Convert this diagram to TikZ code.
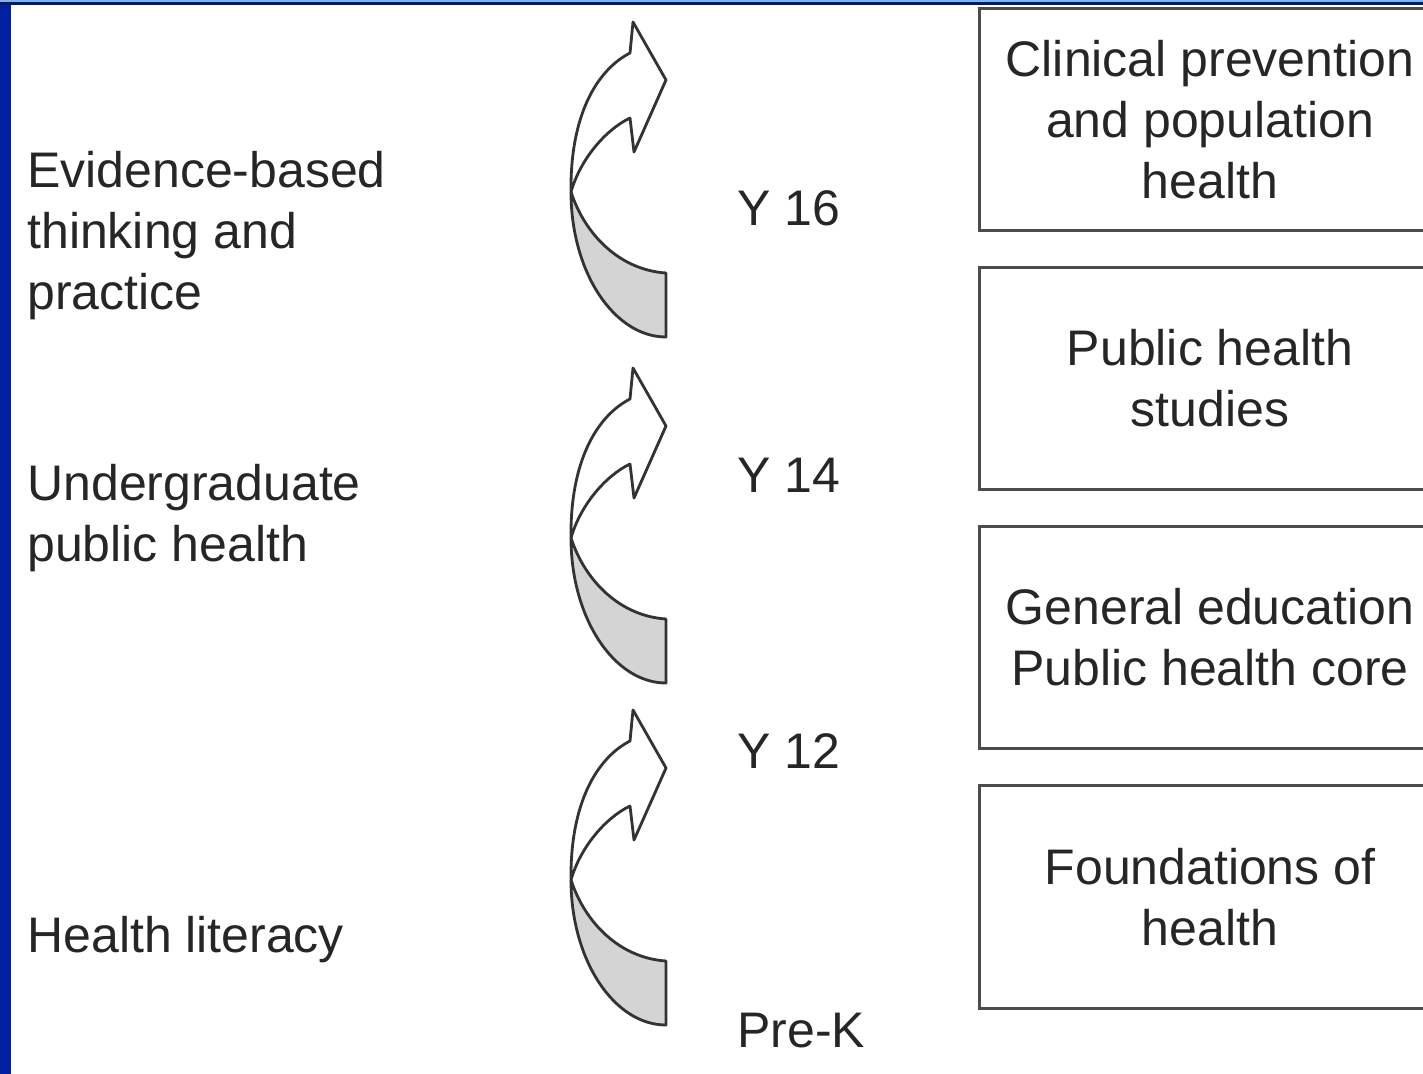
\documentclass[tikz,border=0pt]{standalone}
\usepackage{fontspec}
\setmainfont{Liberation Sans}
\usepackage{xcolor}
\definecolor{barblue}{HTML}{0022A0}
\definecolor{topnavy}{HTML}{001A66}
\definecolor{topsky}{HTML}{80B4EC}
\tikzstyle{box} = [draw=black!70, line width=1.7pt, minimum width=9.24cm, minimum height=4.46cm, inner sep=0pt, align=center, text=black!85]
\tikzstyle{sidetext} = [inner sep=0pt, align=left, text=black!85]
\tikzstyle{yeartext} = [inner sep=0pt, text=black!85]
\tikzstyle{bandline} = [draw=black!80, line width=1.6pt, line join=round]

\begin{document}
\begin{tikzpicture}[x=0.02cm, y=-0.02cm, every node/.style={font=\fontsize{28.45pt}{34.7pt}\selectfont}]
        \clip (0,0) rectangle (1423,1074);
        \fill[white] (0,0) rectangle (1423,1074);

        % Frame
        \fill[topsky] (0,0) rectangle (1423,2);
        \fill[topnavy] (0,2) rectangle (1423,5);
        \fill[barblue] (0,5) rectangle (11,1074);

        % Curved arrows (y offsets)
        \foreach \dy in {0,346,688}{
          \begin{scope}[shift={(0,\dy)}]
            \fill[black!17] (571,192) .. controls (571,272) and (614,337) .. (666,337)
              -- (666,273) .. controls (620,270) and (585,235) .. (571,192) -- cycle;
            \draw[bandline] (571,192) .. controls (571,272) and (614,337) .. (666,337)
              -- (666,273) .. controls (620,270) and (585,235) .. (571,192);
            \filldraw[bandline, fill=white] (571,192) .. controls (570,115) and (597,70) .. (630,53)
              -- (633,22) -- (666,80) -- (634,152) -- (630,118)
              .. controls (605,130) and (580,160) .. (571,192) -- cycle;
          \end{scope}
        }

        % Left labels
        \node[sidetext, anchor=west] (evidence) at (27,236) {Evidence-based\\thinking and\\practice};
        \node[sidetext, anchor=west] (undergrad) at (27,518.5) {Undergraduate\\public health};
        \node[sidetext, anchor=base west] (literacy) at (27,952) {Health literacy};

        % Year marks
        \node[yeartext, anchor=base west] (ysixteen) at (737,226) {Y 16};
        \node[yeartext, anchor=base west] (yfourteen) at (737,492) {Y 14};
        \node[yeartext, anchor=base west] (ytwelve) at (737,768) {Y 12};
        \node[yeartext, anchor=base west] (prek) at (737,1047) {Pre-K};

        % Boxes
        \node[box] (clinical) at (1210,119.5) {Clinical prevention\\and population\\health};
        \node[box] (studies) at (1210,378.5) {Public health\\studies};
        \node[box] (core) at (1210,637.5) {General education\\Public health core};
        \node[box] (foundations) at (1210,897) {Foundations of\\health};
      \end{tikzpicture}
\end{document}
